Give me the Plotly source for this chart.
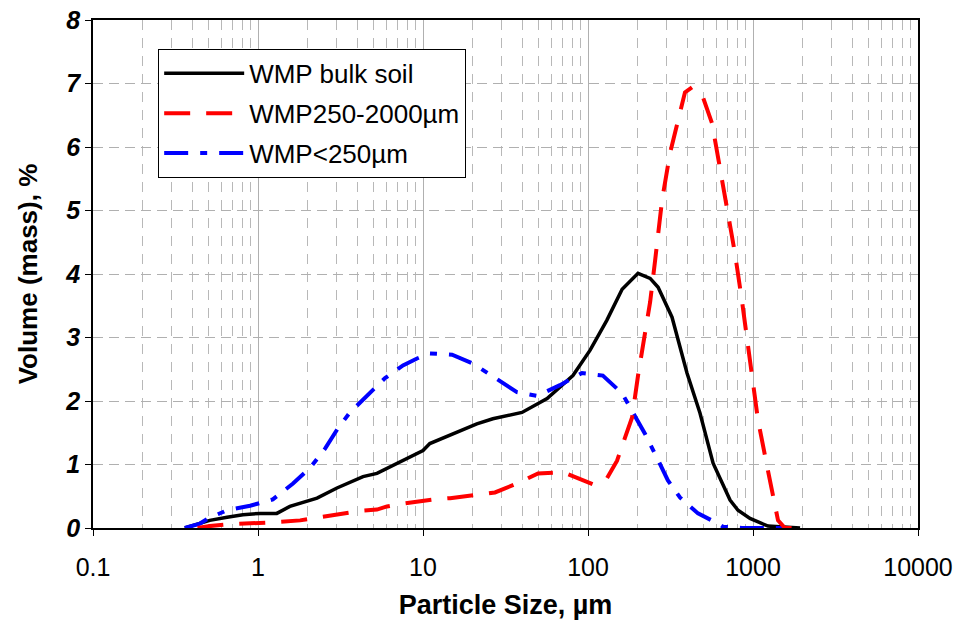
import plotly.graph_objects as go

# --- data ---
bulk_x = [0.36, 0.51, 0.65, 0.81, 1.03, 1.30, 1.56, 1.98, 2.28, 3.01, 4.33, 5.26, 7.56, 10, 11, 14.6,
          21.2, 26.5, 39.8, 56.5, 81, 103, 130, 161, 201, 238, 266, 323, 398, 477, 573, 726, 811,
          959, 1233, 1928]
bulk_y = [0, 0.12, 0.17, 0.21, 0.23, 0.23, 0.34, 0.42, 0.47, 0.63, 0.81, 0.86, 1.07, 1.22, 1.33, 1.46,
          1.64, 1.72, 1.82, 2.04, 2.40, 2.80, 3.27, 3.76, 4.01, 3.93, 3.79, 3.32, 2.44, 1.81, 1.02, 0.44,
          0.28, 0.15, 0.03, 0.0]

coarse_x = [0.43, 0.51, 0.68, 0.99, 1.23, 1.80, 2.38, 3.23, 4.15, 5.26, 6.05, 7.78, 11.5, 14.6, 20.1,
            27.3, 37.1, 49.8, 70.5, 93.2, 107, 130, 150, 168, 185, 201, 221, 238, 255, 281, 314, 351,
            387, 427, 498, 565, 631, 705, 778, 857, 920, 986, 1072, 1233, 1418, 1563, 2009]
coarse_y = [0, 0.03, 0.06, 0.07, 0.09, 0.12, 0.17, 0.23, 0.27, 0.29, 0.34, 0.39, 0.45, 0.47, 0.51,
            0.56, 0.70, 0.86, 0.88, 0.75, 0.69, 0.78, 1.06, 1.43, 1.74, 2.40, 3.05, 3.56, 4.21, 5.16,
            5.90, 6.42, 6.86, 6.94, 6.78, 6.37, 5.68, 4.95, 4.32, 3.58, 3.0, 2.4, 1.7, 0.9, 0.12, 0.0, 0.0]

fine_x = [0.36, 0.445, 0.498, 0.65, 0.895, 1.23, 1.63, 2.07, 2.55, 3.05, 3.61, 4.77, 5.89, 7.56, 9.2,
          11.0, 15.0, 20.1, 27.3, 37.1, 49.1, 67.6, 92, 123, 161, 193, 221, 266, 305, 361, 464, 614,
          658, 857, 1233, 1746]
fine_y = [0, 0.07, 0.15, 0.28, 0.35, 0.45, 0.70, 0.95, 1.25, 1.57, 1.82, 2.14, 2.36, 2.56, 2.67,
          2.75, 2.73, 2.59, 2.36, 2.14, 2.08, 2.25, 2.44, 2.40, 2.12, 1.77, 1.49, 1.07, 0.75, 0.48, 0.23,
          0.07, 0.02, 0, 0, 0]

x_tickvals = [0.1, 1, 10, 100, 1000, 10000]
x_ticktext = ["0.1", "1", "10", "100", "1000", "10000"]
x_minor = [m * d for d in [0.1, 1, 10, 100, 1000] for m in range(2, 10)]
y_tickvals = [0, 1, 2, 3, 4, 5, 6, 7, 8]

FONT = "Liberation Sans, Arial, sans-serif"

fig = go.Figure()
fig.add_trace(go.Scatter(x=bulk_x, y=bulk_y, mode="lines", name="WMP bulk soil",
                         line=dict(color="black", width=3.5), legendgroup="a", legendrank=1))
fig.add_trace(go.Scatter(x=fine_x, y=fine_y, mode="lines", name="WMP<250µm",
                         line=dict(color="#0000ff", width=4, dash="24px,12px,7px,12px"),
                         legendgroup="c", legendrank=3))
fig.add_trace(go.Scatter(x=coarse_x, y=coarse_y, mode="lines", name="WMP250-2000µm",
                         line=dict(color="#ff0000", width=4, dash="26px,16px"),
                         legendgroup="b", legendrank=2))

fig.update_layout(
    width=961, height=628,
    margin=dict(l=93, r=43, t=20, b=100, autoexpand=False),
    paper_bgcolor="white", plot_bgcolor="white",
    font=dict(family=FONT, color="black"),
    showlegend=True,
    legend=dict(x=0.079, y=0.943, xanchor="left", yanchor="top",
                bgcolor="white", bordercolor="black", borderwidth=1,
                font=dict(family=FONT, size=26, color="black"),
                itemwidth=80, tracegroupgap=3, traceorder="grouped"),
)

fig.update_xaxes(
    type="log", range=[-1, 4], automargin=False,
    tickvals=x_tickvals, ticktext=x_ticktext,
    tickfont=dict(family=FONT, size=25, color="black"),
    ticks="outside", ticklen=6, tickcolor="black", ticklabelstandoff=10,
    showline=True, linecolor="black", linewidth=1.5, mirror=True,
    showgrid=True, gridcolor="#b0b0b0", gridwidth=1,
    minor=dict(tickvals=x_minor, showgrid=True, gridcolor="#b8b8b8", griddash="10px,8px",
               gridwidth=1, ticks=""),
    zeroline=False,
    title=dict(text="<b>Particle Size, µm</b>", font=dict(family=FONT, size=27, color="black"),
               standoff=15),
)
fig.update_yaxes(
    range=[0, 8], tickvals=y_tickvals, automargin=False,
    tickfont=dict(family=FONT, size=25, color="black", weight="bold", style="italic"),
    ticks="outside", ticklen=6, tickcolor="black",
    showline=True, linecolor="black", linewidth=1.5, mirror=True,
    showgrid=True, gridcolor="#b0b0b0", griddash="10px,6px", gridwidth=1,
    zeroline=False,
    title=dict(text="<b>Volume (mass), %</b>", font=dict(family=FONT, size=26, color="black"),
               standoff=20),
)

fig.write_html("out.html", config={"displayModeBar": False},
               post_script="document.body.style.margin='0';")
